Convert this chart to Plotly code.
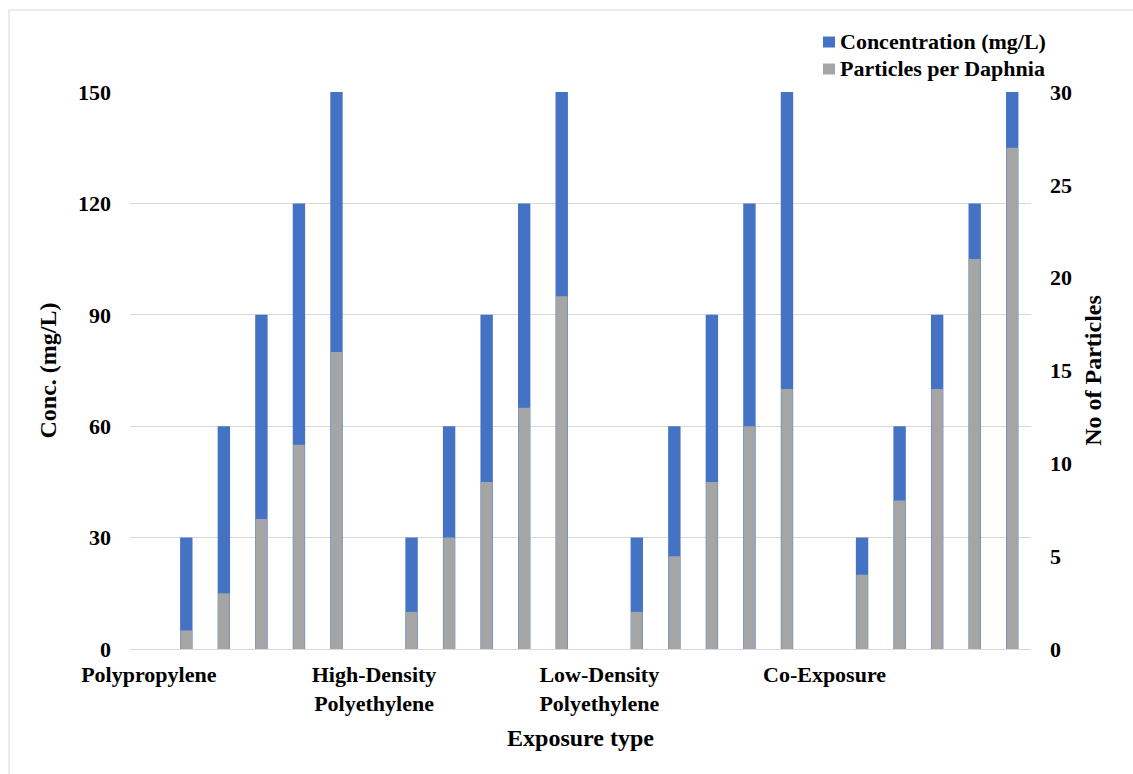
import plotly.graph_objects as go

# Exposure groups and the five nominal concentrations tested in each
groups = ["Polypropylene", "High-Density<br>Polyethylene", "Low-Density<br>Polyethylene", "Co-Exposure"]
concentrations = [30, 60, 90, 120, 150]  # mg/L

# Mean particles ingested per Daphnia at each concentration
particles_pp = [1, 3, 7, 11, 16]
particles_hdpe = [2, 6, 9, 13, 19]
particles_ldpe = [2, 5, 9, 12, 14]
particles_co = [4, 8, 14, 21, 27]

left_ticks = [0, 30, 60, 90, 120, 150]
right_ticks = [0, 5, 10, 15, 20, 25, 30]

series_names = ["Concentration (mg/L)", "Particles per Daphnia"]

particles = [particles_pp, particles_hdpe, particles_ldpe, particles_co]

# Each group occupies 6 slots: a labelled empty slot followed by 5 bars
slots_per_group = len(concentrations) + 1
x_pos, conc_vals, part_vals = [], [], []
for g, parts in enumerate(particles):
    base = g * slots_per_group
    for k, (c, p) in enumerate(zip(concentrations, parts)):
        x_pos.append(base + k + 1)
        conc_vals.append(c)
        part_vals.append(p)
group_ticks = [g * slots_per_group for g in range(len(groups))]
n_slots = slots_per_group * len(groups)

BLUE = "#4472C4"
GRAY = "#A5A5A5"
GRID = "#D9D9D9"
FONT = "Liberation Serif"
colors = [BLUE, GRAY]

fig = go.Figure()
fig.add_trace(go.Bar(
    x=x_pos, y=conc_vals, name=series_names[0],
    marker=dict(color=BLUE, line=dict(width=0)), width=0.33, yaxis="y",
))
fig.add_trace(go.Bar(
    x=x_pos, y=part_vals, name=series_names[1],
    marker=dict(color=GRAY, line=dict(width=0)), width=0.31, yaxis="y2",
))

W, H = 1133, 774
ml, mr, mt, mb = 130, 102, 92, 125
pw, ph = W - ml - mr, H - mt - mb


def px_x(v):
    return (v - ml) / pw


def px_y(v):
    return (H - mb - v) / ph


# Legend drawn as swatches plus labels, stacked in the top-right corner
shapes = [dict(
    type="rect", xref="paper", yref="paper", layer="below",
    x0=px_x(9), x1=px_x(W + 20), y0=px_y(H + 20), y1=px_y(10),
    line=dict(color=GRID, width=1), fillcolor="rgba(0,0,0,0)",
)]
annotations = []
for i, (name, col) in enumerate(zip(series_names, colors)):
    cy = 42 + i * 27
    shapes.append(dict(
        type="rect", xref="paper", yref="paper",
        x0=px_x(823), x1=px_x(835), y0=px_y(cy + 5.5), y1=px_y(cy - 5.5),
        line=dict(width=0), fillcolor=col,
    ))
    annotations.append(dict(
        text=name, xref="paper", yref="paper",
        x=px_x(838), y=px_y(cy), xanchor="left", yanchor="middle",
        showarrow=False,
        font=dict(family=FONT, size=22, color="black", weight="bold"),
    ))

fig.update_layout(
    width=W, height=H,
    margin=dict(l=ml, r=mr, t=mt, b=mb, autoexpand=False),
    paper_bgcolor="white", plot_bgcolor="white",
    font=dict(family=FONT, size=22, color="black", weight="bold"),
    barmode="overlay",
    showlegend=False,
    xaxis=dict(
        range=[-0.5, n_slots - 0.5],
        tickmode="array", tickvals=group_ticks, ticktext=groups,
        tickfont=dict(family=FONT, size=22, color="black", weight="bold"),
        ticks="", ticklabelstandoff=10,
        showgrid=False, zeroline=False, showline=False,
        title=dict(text="Exposure type", standoff=14,
                   font=dict(family=FONT, size=24, color="black", weight="bold")),
    ),
    yaxis=dict(
        range=[0, 150], tickmode="array", tickvals=left_ticks,
        tickfont=dict(family=FONT, size=22, color="black", weight="bold"),
        ticks="", ticklabelstandoff=18,
        showgrid=True, gridcolor=GRID, gridwidth=1,
        zeroline=True, zerolinecolor=GRID, zerolinewidth=1, showline=False,
        title=dict(text="Conc. (mg/L)", standoff=14,
                   font=dict(family=FONT, size=24, color="black", weight="bold")),
    ),
    yaxis2=dict(
        range=[0, 30], tickmode="array", tickvals=right_ticks,
        overlaying="y", side="right",
        tickfont=dict(family=FONT, size=22, color="black", weight="bold"),
        ticks="", ticklabelstandoff=18,
        showgrid=False, zeroline=False, showline=False,
        title=dict(text="No of Particles", standoff=13,
                   font=dict(family=FONT, size=24, color="black", weight="bold")),
    ),
    shapes=shapes,
    annotations=annotations,
)

fig.write_html("out.html")
